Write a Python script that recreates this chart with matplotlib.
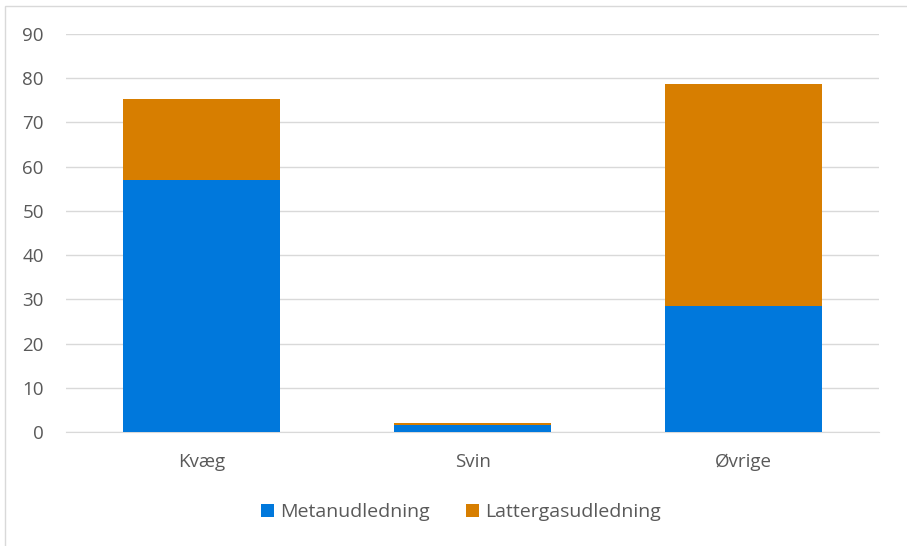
import matplotlib.pyplot as plt
from matplotlib.patches import Rectangle

# data
categories = ['Kvæg', 'Svin', 'Øvrige']
metan = [56.9, 1.5, 28.6]
lattergas = [18.4, 0.45, 50.1]

blue = '#0078DC'
orange = '#D77E00'

plt.rcParams['font.family'] = ['Open Sans', 'DejaVu Sans']

W, H = 907, 546
fig = plt.figure(figsize=(W / 100, H / 100), dpi=100)

# chart frame
fig.patches.append(Rectangle((5 / W, -0.1), 1.2, 1 - 6 / H + 0.1,
                             transform=fig.transFigure, fill=False,
                             edgecolor='#D9D9D9', linewidth=1))

ax = fig.add_axes([66 / W, 1 - 432 / H, (879 - 66) / W, (432 - 34) / H])

x = range(len(categories))
ax.bar(x, metan, width=0.576, color=blue, label='Metanudledning', zorder=3)
ax.bar(x, lattergas, width=0.576, bottom=metan, color=orange,
       label='Lattergasudledning', zorder=3)

ax.set_xlim(-0.5, 2.5)
ax.set_ylim(0, 90)
ax.set_yticks(range(0, 91, 10))
ax.set_xticks(list(x))
ax.set_xticklabels(categories)
ax.grid(axis='y', color='#D9D9D9', linewidth=1, zorder=0)
for s in ['top', 'right', 'left']:
    ax.spines[s].set_visible(False)
ax.spines['bottom'].set_color('#D9D9D9')
ax.tick_params(axis='both', length=0, labelsize=13.5, colors='#595959')
ax.tick_params(axis='y', pad=16)
ax.tick_params(axis='x', pad=15)

ax.legend(loc='center', bbox_to_anchor=(461 / W, 1 - 512 / H),
          bbox_transform=fig.transFigure, ncol=2, frameon=False,
          fontsize=14, labelcolor='#595959', handlelength=0.65,
          handleheight=0.65, handletextpad=0.3, columnspacing=1.9)

fig.savefig('out.png', dpi=100)
